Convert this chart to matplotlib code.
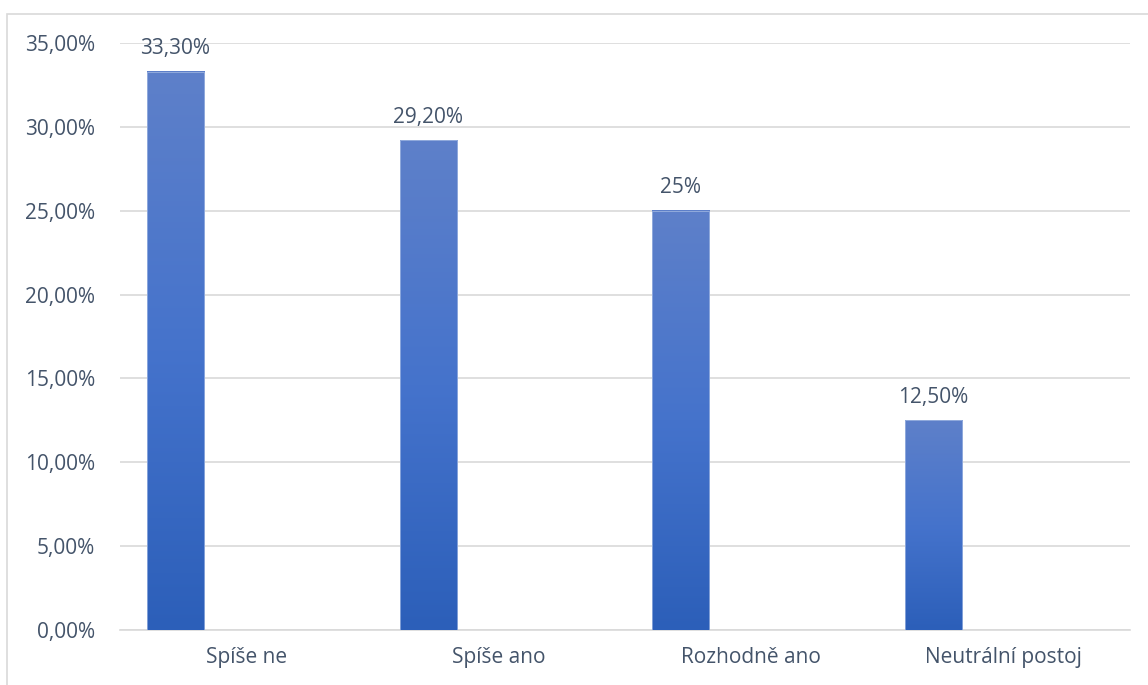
import numpy as np
import matplotlib.pyplot as plt
from matplotlib.patches import Rectangle
from matplotlib.colors import LinearSegmentedColormap

categories = ['Spíše ne', 'Spíše ano', 'Rozhodně ano', 'Neutrální postoj']
values = [33.3, 29.2, 25.0, 12.5]
value_labels = ['33,30%', '29,20%', '25%', '12,50%']
yticks = [0, 5, 10, 15, 20, 25, 30, 35]
ytick_labels = ['0,00%', '5,00%', '10,00%', '15,00%', '20,00%', '25,00%', '30,00%', '35,00%']

plt.rcParams['font.family'] = ['Open Sans', 'DejaVu Sans']
text_col = '#44546A'

fig = plt.figure(figsize=(11.48, 6.85), dpi=100)
ax = fig.add_axes([120 / 1148, 55 / 685, 1010 / 1148, 587 / 685])

# gradient od světlejší nahoře po tmavší dole
cmap = LinearSegmentedColormap.from_list('bar', ['#2C5FB9', '#4573CC', '#5E80C9'])
grad = np.linspace(0, 1, 256).reshape(-1, 1)

offset = -0.28
width = 0.226
x = np.arange(len(categories))
for xi, v, lab in zip(x, values, value_labels):
    x0 = xi + offset - width / 2
    ax.imshow(grad, extent=(x0, x0 + width, 0, v), origin='lower', cmap=cmap,
              aspect='auto', zorder=3, interpolation='bicubic')
    ax.add_patch(Rectangle((x0, 0), width, v, fill=False, edgecolor='#A7BCE4',
                           linewidth=0.5, zorder=4))
    ax.annotate(lab, (xi + offset, v), xytext=(0, 9), textcoords='offset points',
                ha='center', va='bottom', fontsize=15, color=text_col)

ax.set_xlim(-0.5, len(categories) - 0.5)
ax.set_ylim(0, 35)
ax.set_yticks(yticks)
ax.set_yticklabels(ytick_labels)
ax.set_xticks(x)
ax.set_xticklabels(categories)
ax.tick_params(axis='both', length=0, labelsize=15, labelcolor=text_col)
ax.tick_params(axis='y', pad=18)
ax.tick_params(axis='x', pad=12)
ax.grid(axis='y', color='#D9D9D9', linewidth=1.2, zorder=0)
for s in ['top', 'right', 'left']:
    ax.spines[s].set_visible(False)
ax.spines['bottom'].set_color('#D9D9D9')
ax.spines['bottom'].set_linewidth(1.2)

# rámeček grafu (oříznutý vpravo a dole)
fig.patches.append(Rectangle((7 / 1148, -0.1), 1.2, (685 - 14) / 685 + 0.1,
                             transform=fig.transFigure, fill=False,
                             edgecolor='#D9D9D9', linewidth=1.2))

fig.savefig('out.png', dpi=100)
